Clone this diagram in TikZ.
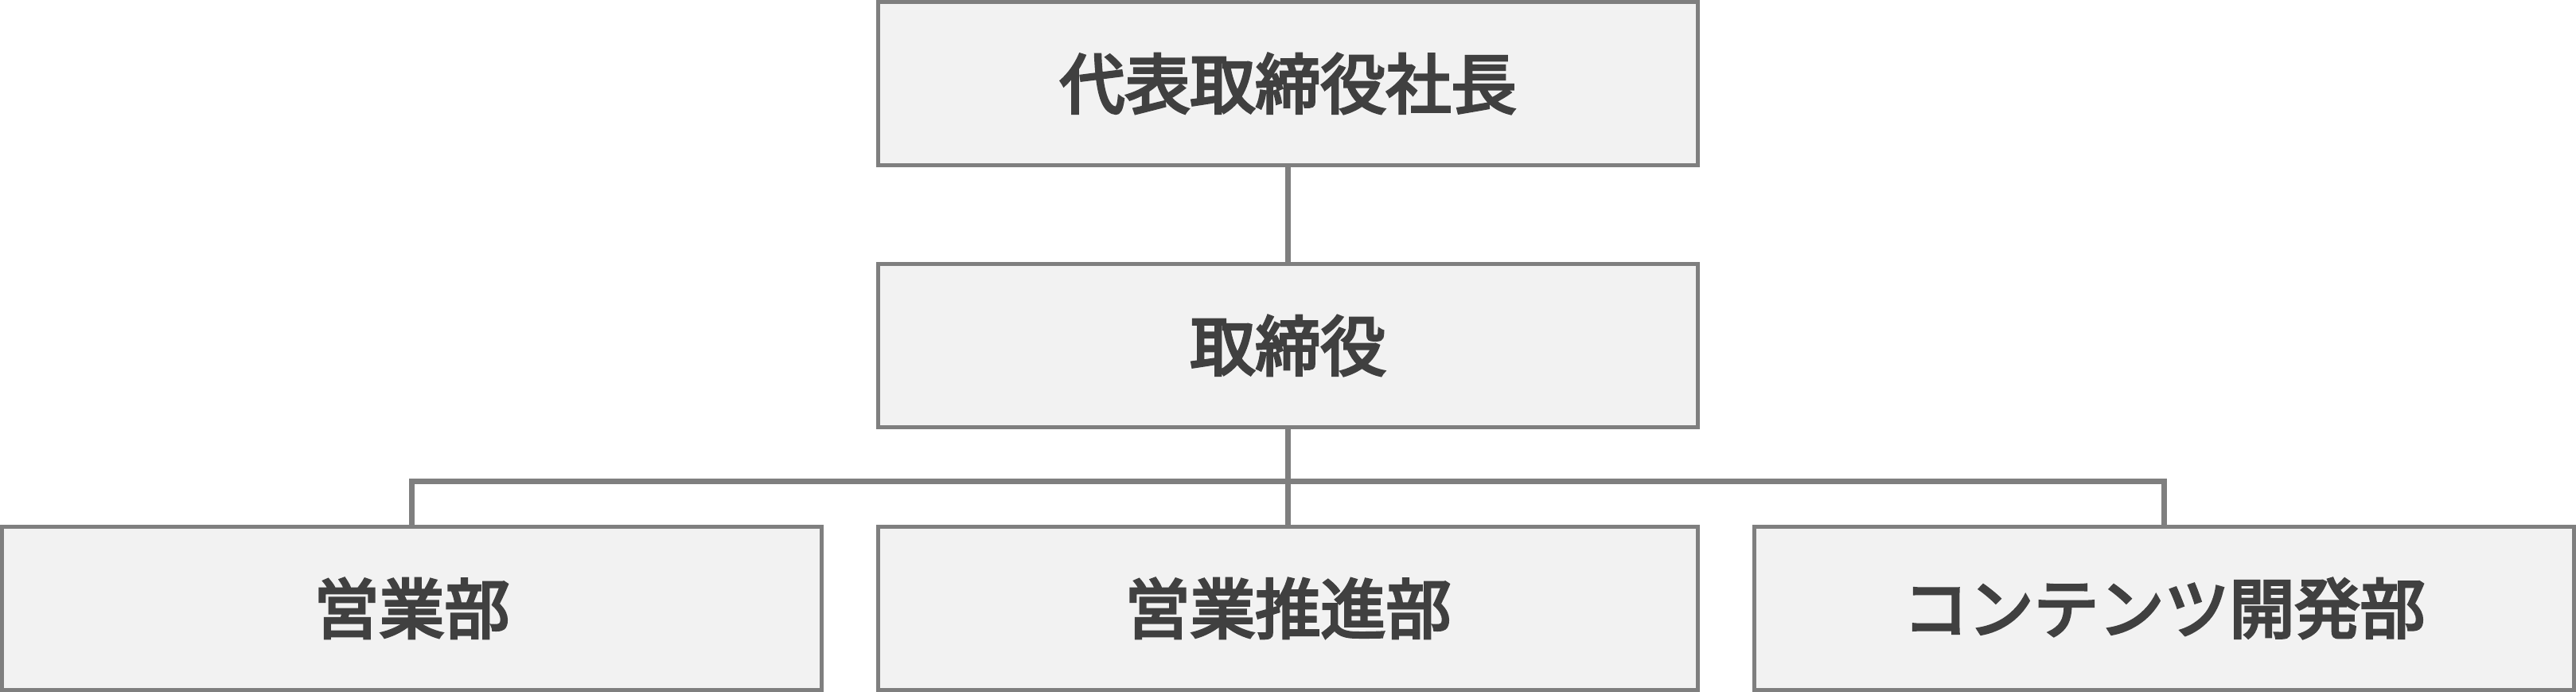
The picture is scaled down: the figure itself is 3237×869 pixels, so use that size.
\documentclass[tikz,border=0pt]{standalone}
\usepackage{fontspec}
\newfontfamily\jp[FakeBold=4]{Noto Sans CJK JP}
\definecolor{boxline}{HTML}{7F7F7F}
\definecolor{boxfill}{HTML}{F2F2F2}
\definecolor{txt}{HTML}{404040}
\begin{document}
\begin{tikzpicture}[x=1pt,y=-1pt,
  orgbox/.style={draw=boxline, fill=boxfill, line width=5pt, rectangle,
    minimum width=1030pt, minimum height=205pt, inner sep=0pt, outer sep=0pt,
    text=txt, font={\jp\fontsize{82}{98}\selectfont}},
  link/.style={draw=boxline, line width=7pt}]
\useasboundingbox (0,0) rectangle (3237,869);
\fill[white] (0,0) rectangle (3237,869);
\node[orgbox] (ceo) at (1618.5,105) {代表取締役社長};
\node[orgbox] (dir) at (1618.5,434) {取締役};
\node[orgbox] (sales) at (517.5,764) {営業部};
\node[orgbox] (promo) at (1618.5,764) {営業推進部};
\node[orgbox] (dev) at (2719.5,764) {コンテンツ開発部};
\coordinate (bar) at (1618.5,604.5);
\draw[link] (ceo.south) -- (dir.north);
\draw[link] (dir.south) -- (promo.north);
\draw[link] (sales.north) |- (bar) -| (dev.north);
\end{tikzpicture}
\end{document}
